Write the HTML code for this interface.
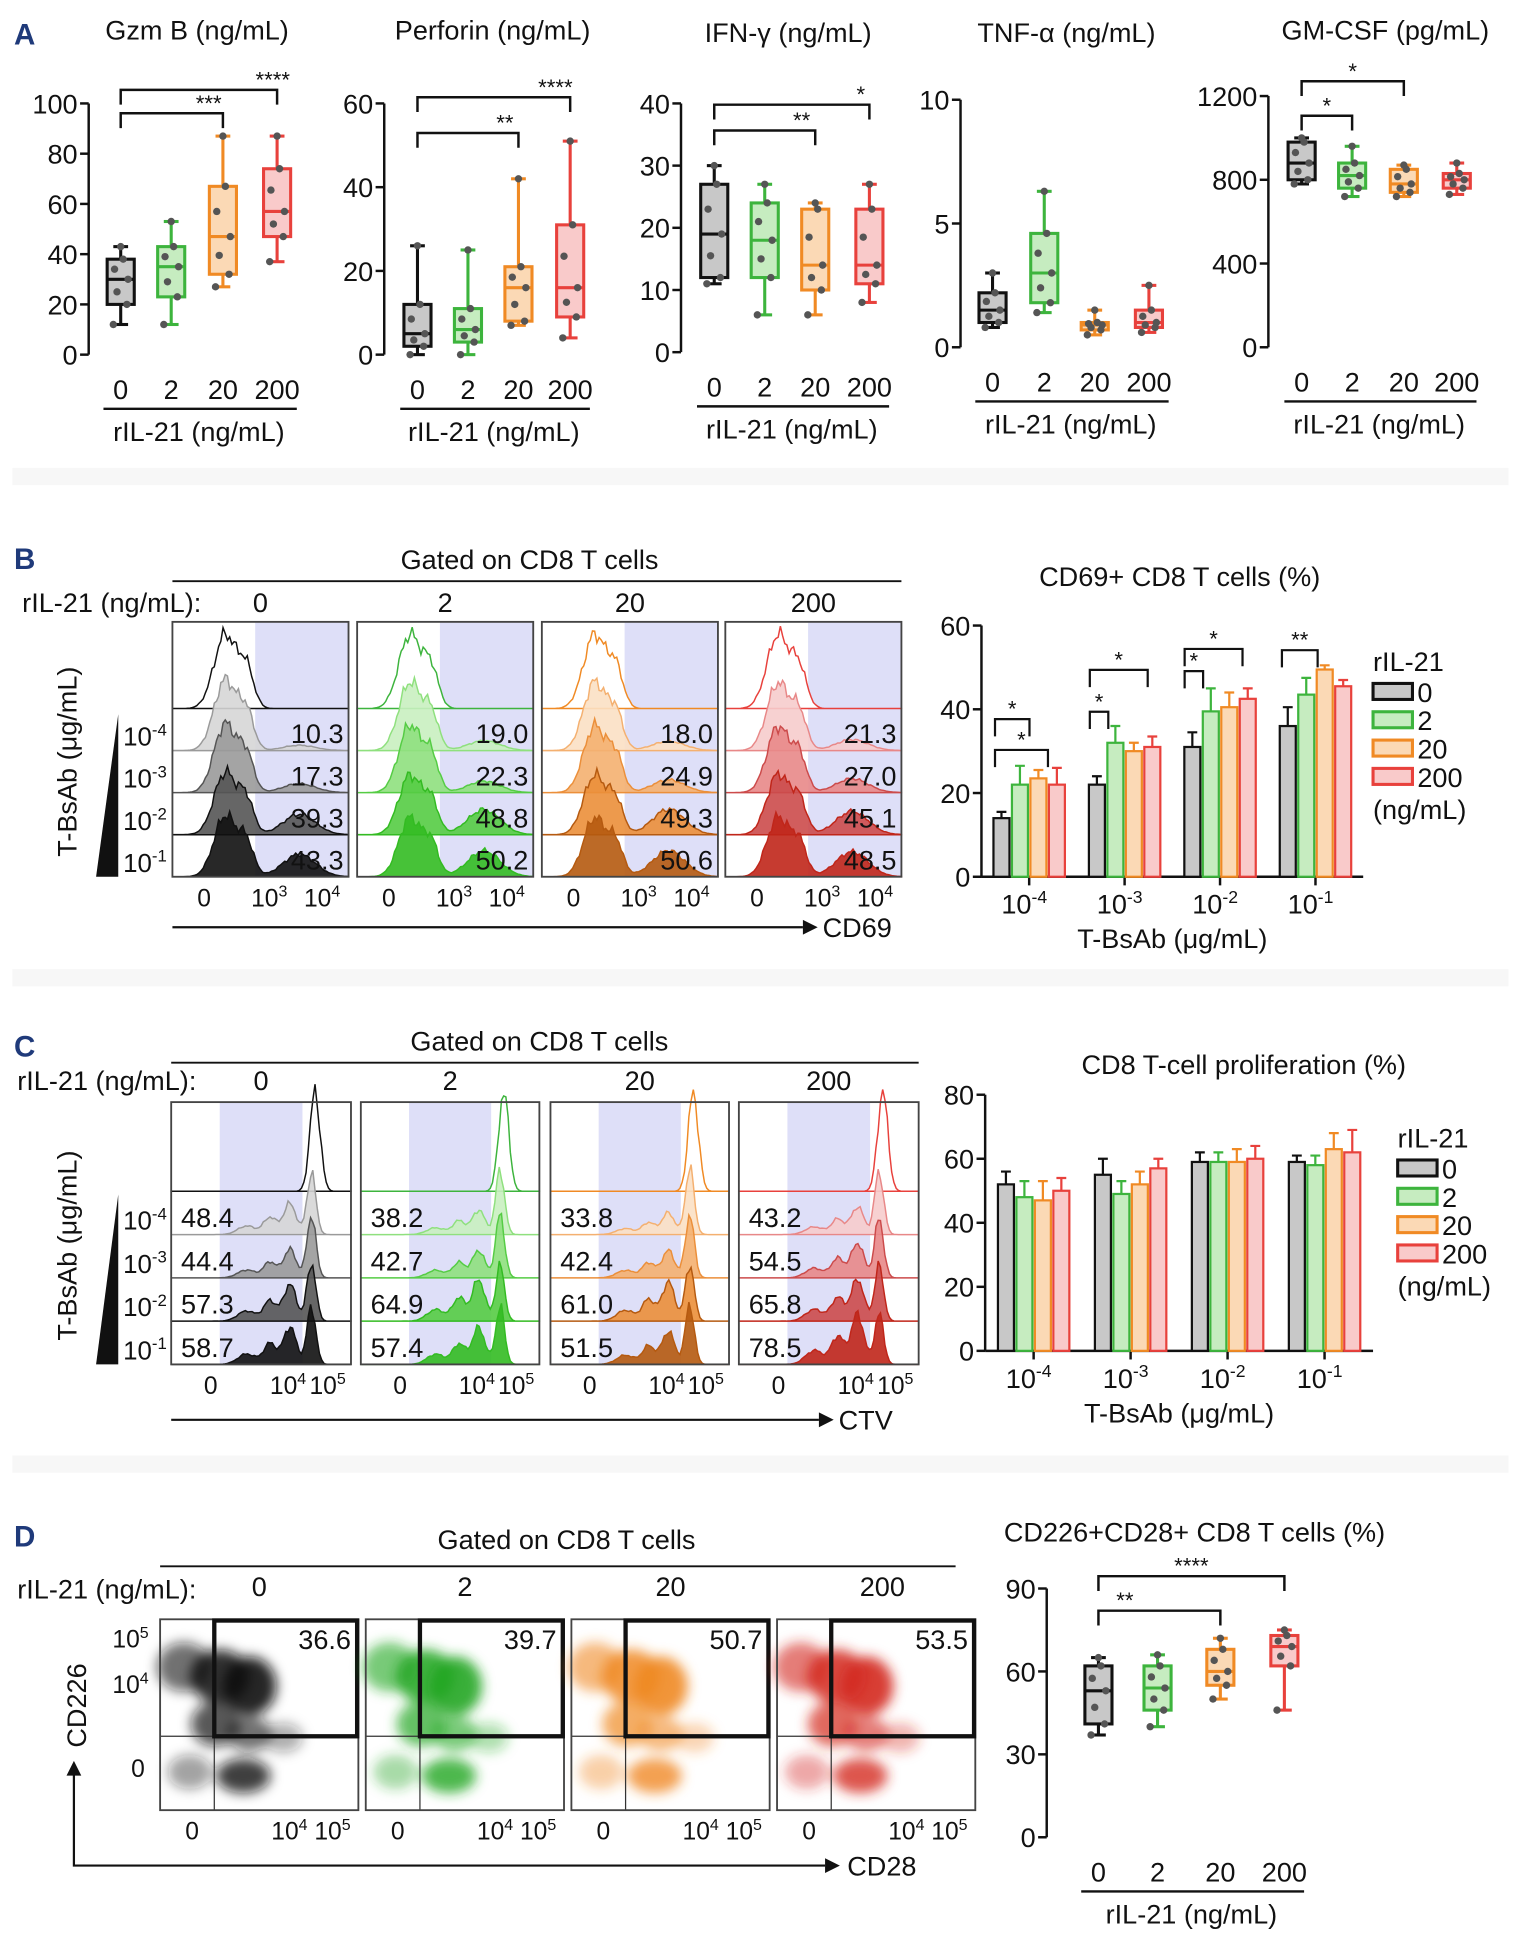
<!DOCTYPE html>
<html><head><meta charset="utf-8"><style>
html,body{margin:0;padding:0;background:#fff;}
svg{display:block;font-family:"Liberation Sans",Arial,sans-serif;}
</style></head><body>
<svg id="fig" width="1527" height="1937" viewBox="0 0 1240 1573" xmlns="http://www.w3.org/2000/svg">
<defs>
<filter id="blur" x="-50%" y="-50%" width="200%" height="200%"><feGaussianBlur stdDeviation="5"/></filter>
</defs>
</svg>
<script>
// ---------- data ----------
const doseCats = ["0","2","20","200"];
const gzmbStats = [[12,20,30,38,43],[12,23,35,43,53],[27,32,47,67,87],[37,47,57,74,87]];
const perfStats = [[0,2,5,12,26],[0,3,6,11,25],[7,8,16,21,42],[4,9,16,31,51]];
const ifnStats = [[11,12,19,27,30],[6,12,18,24,27],[6,10,14,23,24],[8,11,14,23,27]];
const tnfStats = [[0.8,1.0,1.5,2.2,3],[1.4,1.8,3,4.6,6.3],[0.5,0.7,0.9,1.0,1.5],[0.6,0.8,1.0,1.5,2.5]];
const gmStats = [[780,800,880,980,1000],[720,760,820,880,960],[720,740,780,850,870],[730,760,800,830,880]];
const cd226Stats = [[37,41,53,62,65],[40,46,54,62,66],[50,55,60,68,72],[46,62,69,73,75]];
const gzmbTicks=[0,20,40,60,80,100], perfTicks=[0,20,40,60], ifnTicks=[0,10,20,30,40], tnfTicks=[0,5,10], gmTicks=[0,400,800,1200], cd226Ticks=[0,30,60,90];
const bsabCats = ["-4","-3","-2","-1"];
const cd69Vals = [[14,22,23.5,22],[22,32,30,31],[31,39.5,40.5,42.5],[36,43.5,49.5,45.5]];
const cd69Errs = [[1.5,4.5,2,4],[2,4,2,2.5],[3.5,5.5,3.5,2.5],[4.5,4,1,1.5]];
const cd69Ticks=[0,20,40,60];
const prolVals = [[52,48,47,50],[55,49,52,57],[59,59,59,60],[59,58,63,62]];
const prolErrs = [[4,5,6,4],[5,4,4,3],[3,3,4,4],[2,3,5,7]];
const prolTicks=[0,20,40,60,80];
const cd69Pct = [["10.3","17.3","39.3","43.3"],["19.0","22.3","48.8","50.2"],["18.0","24.9","49.3","50.6"],["21.3","27.0","45.1","48.5"]];
const ctvPct = [["48.4","44.4","57.3","58.7"],["38.2","42.7","64.9","57.4"],["33.8","42.4","61.0","51.5"],["43.2","54.5","65.8","78.5"]];
const gatePct = ["36.6","39.7","50.7","53.5"];

const COL = [{s:"#111",f:"#c8c8c8"},{s:"#3db43d",f:"#c6ecc0"},{s:"#f08a24",f:"#fbd9b5"},{s:"#e8413c",f:"#f9caca"}];
const NS="http://www.w3.org/2000/svg";
const svg=document.getElementById('fig');
function mk(tag,a,p){const e=document.createElementNS(NS,tag);for(const k in a)e.setAttribute(k,a[k]);(p||svg).appendChild(e);return e;}
function tx(x,y,s,size,anchor,p){const t=mk('text',{x:x,y:y,'font-size':size||22,'text-anchor':anchor||'middle',fill:'#111'},p);t.textContent=s;return t;}
function sup(x,y,base,exp,size,anchor,p){const t=mk('text',{x:x,y:y,'font-size':size,'text-anchor':anchor||'middle',fill:'#111'},p);const a=mk('tspan',{},t);a.textContent=base;const b=mk('tspan',{dy:-size*0.4,'font-size':size*0.65},t);b.textContent=exp;return t;}

[["A",20,36],["B",20,462],["C",20,858],["D",20,1256]].forEach(l=>{const t=tx(l[1],l[2],l[0],24,'middle');t.setAttribute('fill','#1f3a7a');t.setAttribute('font-weight','bold');

});
[388,795,1190].forEach(y=>{const r=mk('rect',{x:10,y:y-8,width:1215,height:14,fill:'#f7f7f7'});

});

function boxPanel(c){
  const g=mk('g',{});
  
  
  const y=v=>c.yb-(v/c.max)*(c.yb-c.yt);
  const t=tx(c.tx,c.ty,c.title,22,'middle',g);
  
  
  mk('line',{x1:c.ax,y1:c.yt,x2:c.ax,y2:c.yb,stroke:'#111','stroke-width':2},g);
  c.ticks.forEach(v=>{mk('line',{x1:c.ax-7,x2:c.ax,y1:y(v),y2:y(v),stroke:'#111','stroke-width':2},g);
    const l=tx(c.ax-9,y(v)+8,String(v),22,'end',g);
    
    });
  const xl=c.xs[0]-14, xr=c.xs[3]+16;
  mk('line',{x1:xl,x2:xr,y1:c.yb+44,y2:c.yb+44,stroke:'#111','stroke-width':2},g);
  doseCats.forEach((d,i)=>{const l=tx(c.xs[i],c.yb+36,d,22,'middle',g);
    
    });
  const xt=tx((c.xs[0]+c.xs[3])/2,c.yb+70,"rIL-21 (ng/mL)",22,'middle',g);
  
  
  c.stats.forEach((s,i)=>{
    const x=c.xs[i],w=22,col=COL[i];
    const bg=mk('g',{},g);
    
    
    mk('line',{x1:x,x2:x,y1:y(s[0]),y2:y(s[4]),stroke:col.s,'stroke-width':2.5},bg);
    [s[0],s[4]].forEach(v=>mk('line',{x1:x-6,x2:x+6,y1:y(v),y2:y(v),stroke:col.s,'stroke-width':2.5},bg));
    mk('rect',{x:x-w/2,y:y(s[3]),width:w,height:Math.max(1,y(s[1])-y(s[3])),fill:col.f,stroke:col.s,'stroke-width':2.5},bg);
    mk('line',{x1:x-w/2,x2:x+w/2,y1:y(s[2]),y2:y(s[2]),stroke:col.s,'stroke-width':2.5},bg);
    const pts=[s[0],s[1],(s[1]+s[2])/2,s[2],(s[2]+s[3])/2,s[3],s[4]];
    const jit=[-6,5,-3,6,-5,2,0];
    pts.forEach((v,k)=>mk('circle',{cx:x+jit[k],cy:y(v),r:3,fill:'#555'},bg));
  });
  (c.sig||[]).forEach(b=>{
    const x1=c.xs[b[0]],x2=c.xs[b[1]],yy=b[2];
    mk('path',{d:`M${x1} ${yy+12}V${yy}H${x2}V${yy+12}`,fill:'none',stroke:'#111','stroke-width':2},g);
    const s=tx((x1+x2)/2+(b[4]||0),yy-2,b[3],18,'middle',g);
    
    
  });
}
boxPanel({name:'gzmb-boxplot',title:'Gzm B (ng/mL)',tx:160,ty:32,ax:72,yt:84,yb:288,max:100,ticks:gzmbTicks,xs:[98,139,181,225],stats:gzmbStats,sig:[[0,3,73,'****',60],[0,2,92,'***',30]]});
boxPanel({name:'perforin-boxplot',title:'Perforin (ng/mL)',tx:400,ty:32,ax:312,yt:84,yb:288,max:60,ticks:perfTicks,xs:[339,380,421,463],stats:perfStats,sig:[[0,3,79,'****',50],[0,2,108,'**',30]]});
boxPanel({name:'ifng-boxplot',title:'IFN-γ (ng/mL)',tx:640,ty:34,ax:553,yt:84,yb:286,max:40,ticks:ifnTicks,xs:[580,621,662,706],stats:ifnStats,sig:[[0,3,85,'*',56],[0,2,106,'**',30]]});
boxPanel({name:'tnfa-boxplot',title:'TNF-α (ng/mL)',tx:866,ty:34,ax:780,yt:81,yb:282,max:10,ticks:tnfTicks,xs:[806,848,889,933],stats:tnfStats});
boxPanel({name:'gmcsf-boxplot',title:'GM-CSF (pg/mL)',tx:1125,ty:32,ax:1030,yt:78,yb:282,max:1200,ticks:gmTicks,xs:[1057,1098,1140,1183],stats:gmStats,sig:[[0,2,66,'*',0],[0,1,94,'*',0]]});
boxPanel({name:'cd226-cd28-boxplot',title:'CD226+CD28+ CD8 T cells (%)',tx:970,ty:1252,ax:850,yt:1290,yb:1492,max:90,ticks:cd226Ticks,xs:[892,940,991,1043],stats:cd226Stats,sig:[[0,3,1280,'****',0],[0,2,1308,'**',-28]]});

function barPanel(c){
  const g=mk('g',{});
  
  
  const y=v=>c.yb-(v/c.max)*(c.yb-c.yt);
  const t=tx(c.tx,c.ty,c.title,22,'middle',g);
  
  
  mk('line',{x1:c.ax,y1:c.yt,x2:c.ax,y2:c.yb,stroke:'#111','stroke-width':2},g);
  mk('line',{x1:c.ax,y1:c.yb,x2:c.ax+c.w,y2:c.yb,stroke:'#111','stroke-width':2},g);
  c.ticks.forEach(v=>{mk('line',{x1:c.ax-7,x2:c.ax,y1:y(v),y2:y(v),stroke:'#111','stroke-width':2},g);
    const l=tx(c.ax-9,y(v)+8,String(v),22,'end',g);
    
    });
  const gw=c.w/4;
  c.vals.forEach((grp,gi)=>{
    const cx=c.ax+gw*(gi+0.5);
    mk('line',{x1:cx,x2:cx,y1:c.yb,y2:c.yb+7,stroke:'#111','stroke-width':2},g);
    const l=sup(cx-4,c.yb+30,'10',bsabCats[gi],22,'middle',g);
    
    
    grp.forEach((v,i)=>{
      const bw=13, x=cx-2*bw-3+i*(bw+2);
      const r=mk('rect',{x:x,y:y(v),width:bw,height:c.yb-y(v),fill:COL[i].f,stroke:COL[i].s,'stroke-width':1.8},g);
      
      
      const e=c.errs[gi][i];
      mk('path',{d:`M${x+bw/2} ${y(v)}V${y(v+e)}M${x+bw/2-4} ${y(v+e)}H${x+bw/2+4}`,stroke:COL[i].s,'stroke-width':1.8,fill:'none'},g);
    });
  });
  const xt=tx(c.ax+c.w/2,c.yb+58,'T-BsAb (μg/mL)',22,'middle',g);
  
  
  const lg=mk('g',{},g);
  
  
  tx(c.lx,c.ly,'rIL-21',22,'start',lg);
  doseCats.forEach((d,i)=>{mk('rect',{x:c.lx,y:c.ly+10+i*23,width:32,height:13,fill:COL[i].f,stroke:COL[i].s,'stroke-width':2.5},lg);
    const l=tx(c.lx+36,c.ly+25+i*23,d,22,'start',lg);
    
    });
  tx(c.lx,c.ly+120,'(ng/mL)',22,'start',lg);
  (c.sig||[]).forEach(b=>{
    mk('path',{d:`M${b[0]} ${b[2]+14}V${b[2]}H${b[1]}V${b[2]+14}`,fill:'none',stroke:'#111','stroke-width':1.8},g);
    const s=tx((b[0]+b[1])/2,b[2]-2,b[3],18,'middle',g);
    
    
  });
}
barPanel({name:'cd69-bar-chart',title:'CD69+ CD8 T cells (%)',tx:958,ty:476,ax:797,yt:508,yb:712,max:60,w:310,ticks:cd69Ticks,vals:cd69Vals,errs:cd69Errs,lx:1115,ly:545,
 sig:[[808,836,584,'*'],[808,851,609,'*'],[885,932,544,'*'],[885,900,578,'*'],[962,1009,527,'*'],[962,977,545,'*'],[1041,1070,528,'**']]});
barPanel({name:'proliferation-bar-chart',title:'CD8 T-cell proliferation (%)',tx:1010,ty:872,ax:800,yt:889,yb:1097,max:80,w:315,ticks:prolTicks,vals:prolVals,errs:prolErrs,lx:1135,ly:932});

function ridge(x0,w,base,h,peaks,seed){
  let d=`M${x0} ${base}`;
  for(let i=0;i<=80;i++){const t=i/80;let v=0;peaks.forEach(p=>v+=p[2]*Math.exp(-Math.pow((t-p[0])/p[1],2)));
    v*=1+0.12*Math.sin(i*1.7+seed)*Math.sin(i*0.6+seed*2);
    d+=`L${(x0+t*w).toFixed(1)} ${(base-v*h).toFixed(1)}`;}
  return d+`L${x0+w} ${base}Z`;
}
const shadesB=[["#fff","#d6d6d6","#9a9a9a","#555","#111"],["#fff","#c9efc0","#8fe07e","#55cc44","#33bb22"],["#fff","#fbe0c4","#f4b070","#eb8f3a","#b55a10"],["#fff","#f6cccc","#e88888","#cc4b4b","#c0261a"]];
function histGrid(c){
  const g=mk('g',{});
  
  
  tx(c.gx,c.gy,'Gated on CD8 T cells',22,'middle',g);
  mk('line',{x1:c.boxes[0][0],x2:c.boxes[3][1],y1:c.gy+10,y2:c.gy+10,stroke:'#111','stroke-width':1.5},g);
  tx(c.rx,c.ry,'rIL-21 (ng/mL):',22,'start',g);
  const yl=tx(0,0,'T-BsAb (μg/mL)',22,'middle',g);
  yl.setAttribute('transform',`translate(${c.ylx},${(c.y0+c.y1)/2+10}) rotate(-90)`);
  
  
  mk('path',{d:`M${c.triX} ${c.y1}L${c.triX+18} ${c.y1}L${c.triX+18} ${c.y0+75}Z`,fill:'#111'},g);
  const rowB=[];for(let r=0;r<5;r++)rowB.push(c.y0+(c.y1-c.y0)*(0.34+0.165*r));
  for(let r=1;r<5;r++){sup(c.triX+22,rowB[r]-4,'10',bsabCats[r-1],21,'start',g);}
  c.boxes.forEach((b,ci)=>{
    const gg=mk('g',{},g);
    
    
    tx((b[0]+b[1])/2,c.ry,doseCats[ci],22,'middle',gg);
    mk('rect',{x:b[0],y:c.y0,width:b[1]-b[0],height:c.y1-c.y0,fill:'#fff'},gg);
    const w=b[1]-b[0];
    mk('rect',{x:b[0]+w*c.sh[0],y:c.y0,width:w*(c.sh[1]-c.sh[0]),height:c.y1-c.y0,fill:'#dedff8'},gg);
    for(let r=0;r<5;r++){
      const p= r===0?0:parseFloat(c.pct[ci][r-1])/100;
      const pk=c.peaks(p,r);
      mk('path',{d:ridge(b[0],w,rowB[r],c.rh,pk,ci*3+r),fill:shadesB[ci][r],'fill-opacity':r?0.9:1,stroke:r?shadesB[ci][Math.min(4,r+1)]:COL[ci].s,'stroke-width':1.2},gg);
      if(r>0){const l=tx(c.pctRight?b[1]-4:b[0]+8,rowB[r]-6,c.pct[ci][r-1],22,c.pctRight?'end':'start',gg);
        
        }
    }
    mk('rect',{x:b[0],y:c.y0,width:w,height:c.y1-c.y0,fill:'none',stroke:'#444','stroke-width':1.5},gg);
    c.xt.forEach(tk=>{tk[1]?sup(b[0]+w*tk[0],c.y1+24,'10',tk[1],20,'middle',gg):tx(b[0]+w*tk[0],c.y1+24,'0',20,'middle',gg);});
  });
  mk('line',{x1:c.boxes[0][0],x2:c.arrowEnd,y1:c.ay,y2:c.ay,stroke:'#111','stroke-width':1.8},g);
  mk('path',{d:`M${c.arrowEnd} ${c.ay-6}L${c.arrowEnd+12} ${c.ay}L${c.arrowEnd} ${c.ay+6}Z`,fill:'#111'},g);
  const ax=tx(c.arrowEnd+16,c.ay+8,c.axisName,22,'start',g);
  
  
}
histGrid({name:'cd69-histograms',gx:430,gy:462,rx:18,ry:497,ylx:62,triX:78,y0:505,y1:712,rh:60,
 boxes:[[140,283],[290,433],[440,583],[589,732]],sh:[0.47,1],pct:cd69Pct,pctRight:true,
 peaks:(p,r)=>[[0.3,0.09,1-p*0.4],[0.42,0.06,0.5*(1-p*0.3)],[0.72,0.13,p*0.7]],
 xt:[[0.18,0],[0.55,'3'],[0.85,'4']],arrowEnd:652,ay:753,axisName:'CD69'});
histGrid({name:'ctv-histograms',gx:438,gy:853,rx:14,ry:885,ylx:62,triX:78,y0:895,y1:1108,rh:58,
 boxes:[[139,285],[293,438],[447,592],[600,746]],sh:[0.27,0.73],pct:ctvPct,pctRight:false,
 peaks:(p,r)=>r===0?[[0.8,0.04,1.4]]:[[0.78,0.035,1.1-p*0.5],[0.66,0.05,p*0.9],[0.55,0.05,p*0.5],[0.42,0.07,p*0.25]],
 xt:[[0.22,0],[0.65,'4'],[0.87,'5']],arrowEnd:665,ay:1153,axisName:'CTV'});

(function(){
  const g=mk('g',{});
  
  
  tx(460,1258,'Gated on CD8 T cells',22,'middle',g);
  mk('line',{x1:130,x2:776,y1:1272,y2:1272,stroke:'#111','stroke-width':1.5},g);
  tx(14,1298,'rIL-21 (ng/mL):',22,'start',g);
  const boxes=[[130,291],[297,458],[464,625],[631,792]], y0=1315,y1=1470;
  const dark=["#111","#22a622","#f08a24","#d42a20"];
  boxes.forEach((b,i)=>{
    const gg=mk('g',{},g);
    
    
    tx((b[0]+b[1])/2-(i==3?-5:0),1296,doseCats[i],22,'middle',gg);
    const bl=mk('g',{filter:'url(#blur)'},gg);
    [[0.12,0.25,22,20,0.6],[0.3,0.3,24,22,0.85],[0.45,0.35,22,24,0.9],[0.28,0.55,20,18,0.7],[0.45,0.6,18,14,0.6],[0.15,0.8,18,14,0.4],[0.42,0.82,22,14,0.8],[0.62,0.62,16,12,0.35]].forEach(e=>{
      mk('ellipse',{cx:b[0]+(b[1]-b[0])*e[0],cy:y0+(y1-y0)*e[1],rx:e[2],ry:e[3],fill:dark[i],'fill-opacity':e[4]},bl);});
    mk('line',{x1:b[0]+44,x2:b[0]+44,y1:y0,y2:y1,stroke:'#333','stroke-width':1},gg);
    mk('line',{x1:b[0],x2:b[1],y1:y0+95,y2:y0+95,stroke:'#333','stroke-width':1},gg);
    mk('rect',{x:b[0],y:y0,width:b[1]-b[0],height:y1-y0,fill:'none',stroke:'#444','stroke-width':1.5},gg);
    mk('rect',{x:b[0]+44,y:y0+1,width:b[1]-b[0]-45,height:94,fill:'none',stroke:'#111','stroke-width':3.5},gg);
    const l=tx(b[1]-6,y0+24,gatePct[i],22,'end',gg);
    
    
    tx(b[0]+26,y1+24,'0',20,'middle',gg);
    sup(b[0]+105,y1+24,'10','4',20,'middle',gg);
    sup(b[0]+140,y1+24,'10','5',20,'middle',gg);
  });
  sup(106,1338,'10','5',20,'middle',g);sup(106,1375,'10','4',20,'middle',g);tx(112,1443,'0',20,'middle',g);
  const yl=tx(0,0,'CD226',22,'middle',g);yl.setAttribute('transform','translate(70,1385) rotate(-90)');
  mk('path',{d:'M60 1440V1515H670',fill:'none',stroke:'#111','stroke-width':1.8},g);
  mk('path',{d:'M54 1442L60 1430L66 1442ZM670 1509L682 1515L670 1521Z',fill:'#111'},g);
  tx(688,1523,'CD28',22,'start',g);
})();
</script>
</body></html>
